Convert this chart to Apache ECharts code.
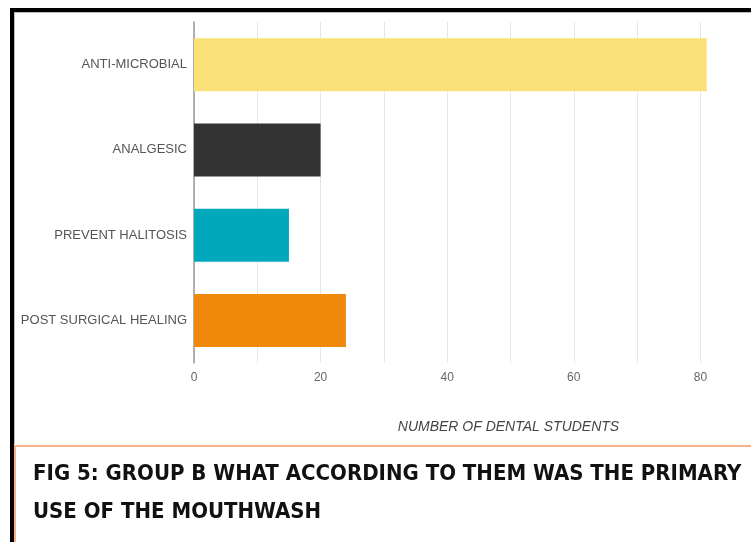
<!DOCTYPE html>
<html>
<head>
<meta charset="utf-8">
<script src="https://cdn.jsdelivr.net/npm/echarts@6/dist/echarts.min.js"></script>
<style>
html,body{margin:0;padding:0;background:#fff;overflow:hidden;width:751px;height:542px;}
#chart{width:840px;height:542px;}
</style>
</head>
<body>
<div id="chart"></div>
<script>
const categories = ["ANTI-MICROBIAL", "ANALGESIC", "PREVENT HALITOSIS", "POST SURGICAL HEALING"];
const values = [81, 20, 15, 24];
const barColors = ["#f9e177", "#333333", "#00a8bb", "#f0880c"];
const axisTitle = "NUMBER OF DENTAL STUDENTS";
const captionLine1 = "FIG 5: GROUP B WHAT ACCORDING TO THEM WAS THE PRIMARY";
const captionLine2 = "USE OF THE MOUTHWASH";

const chart = echarts.init(document.getElementById('chart'), null, {renderer: 'canvas'});
chart.setOption({
  backgroundColor: '#ffffff',
  animation: false,
  grid: {left: 194, width: 633, top: 22, height: 341, containLabel: false},
  xAxis: {
    type: 'value', min: 0, max: 100, interval: 10,
    axisLine: {show: false}, axisTick: {show: false},
    splitLine: {show: true, lineStyle: {color: '#e6e6e6', width: 1}},
    axisLabel: {
      color: '#666', fontSize: 12, fontFamily: 'Liberation Sans, sans-serif', margin: 9,
      formatter: v => (v % 20 === 0 ? String(v) : '')
    },
    name: axisTitle, nameLocation: 'middle', nameGap: 57,
    nameTextStyle: {color: '#444', fontSize: 14, fontStyle: 'italic', fontFamily: 'Liberation Sans, sans-serif', padding: [0, 4, 0, 0]}
  },
  yAxis: {
    type: 'category', data: categories, inverse: true,
    axisLine: {show: true, lineStyle: {color: '#999', width: 1.5}},
    axisTick: {show: false},
    axisLabel: {color: '#555', fontSize: 13, fontFamily: 'Liberation Sans, sans-serif', margin: 7}
  },
  series: [{
    type: 'bar', barWidth: 53,
    data: values.map((v, i) => ({value: v, itemStyle: {color: barColors[i]}}))
  }],
  graphic: [
    {type: 'rect', shape: {x: 10, y: 8, width: 830, height: 4}, style: {fill: '#000'}, z: 10},
    {type: 'rect', shape: {x: 10, y: 12, width: 830, height: 1}, style: {fill: '#bbb'}, z: 10},
    {type: 'rect', shape: {x: 10, y: 8, width: 4, height: 534}, style: {fill: '#000'}, z: 10},
    {type: 'rect', shape: {x: 14, y: 12, width: 1, height: 432}, style: {fill: '#bbb'}, z: 10},
    {type: 'rect', shape: {x: 14, y: 445, width: 826, height: 2}, style: {fill: '#f5b184'}, z: 10},
    {type: 'rect', shape: {x: 14, y: 445, width: 2, height: 97}, style: {fill: '#f5b184'}, z: 10},
    {type: 'rect', shape: {x: 16, y: 447, width: 824, height: 95}, style: {fill: '#fff'}, z: 9},
    {type: 'text', left: 33, top: 463, style: {text: captionLine1, fill: '#111', font: 'bold 22px "DejaVu Sans Condensed", sans-serif'}, z: 10},
    {type: 'text', left: 33, top: 501, style: {text: captionLine2, fill: '#111', font: 'bold 22px "DejaVu Sans Condensed", sans-serif'}, z: 10}
  ]
});
</script>
</body>
</html>
